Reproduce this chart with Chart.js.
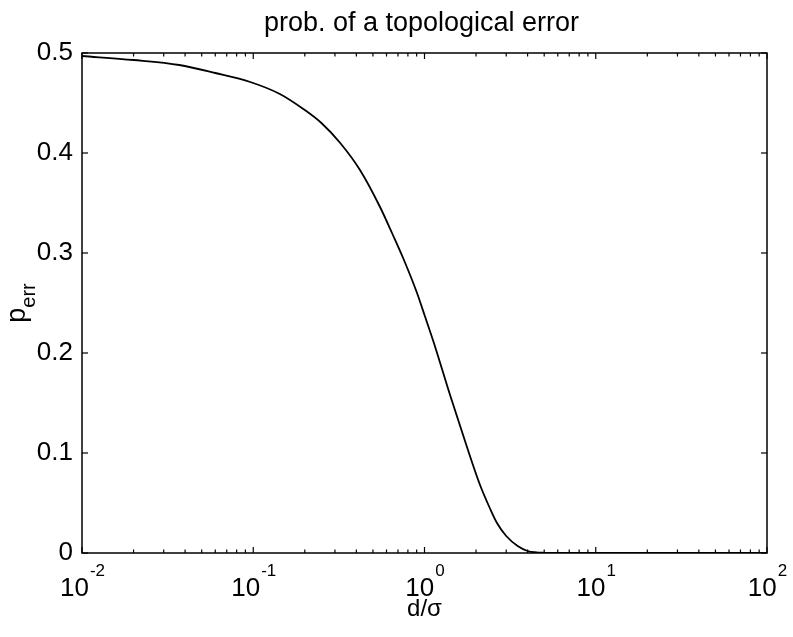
<!DOCTYPE html>
<html>
<head>
<meta charset="utf-8">
<script src="https://cdn.jsdelivr.net/npm/chart.js@4"></script>
<style>
  body { margin: 0; background: #fff; }
  #wrap { width: 793px; height: 637px; }
</style>
</head>
<body>
<div id="wrap"><canvas id="myChart" width="793" height="637"></canvas></div>
<script>
// données
const dSigma = [0.01, 0.02, 0.037, 0.06, 0.096, 0.143, 0.196, 0.25, 0.322, 0.42, 0.55, 0.65, 0.75, 0.9, 1.0, 1.13, 1.41, 1.77, 2.11, 2.42, 2.65, 3.0, 3.5, 4.0, 4.5, 5.0, 6.0, 100];
const pErr = [0.497, 0.493, 0.488, 0.480, 0.471, 0.459, 0.444, 0.430, 0.410, 0.383, 0.346, 0.319, 0.295, 0.261, 0.238, 0.211, 0.158, 0.106, 0.068, 0.044, 0.030, 0.017, 0.007, 0.002, 0.0006, 0.0002, 0, 0];

const xTickValues = [0.01, 0.1, 1, 10, 100];
const xTickExps = ['-2', '-1', '0', '1', '2'];
const yTickValues = [0, 0.1, 0.2, 0.3, 0.4, 0.5];
const yTickLabels = ['0', '0.1', '0.2', '0.3', '0.4', '0.5'];

const FONT = "'Liberation Sans', Arial, Helvetica, sans-serif";
const ctx = document.getElementById('myChart');

function seg(c, x1, y1, x2, y2) {
  c.beginPath();
  c.moveTo(x1, y1);
  c.lineTo(x2, y2);
  c.stroke();
}

// cadre, graduations intérieures et textes avec exposant / indice
const frame = {
  id: 'frame',
  afterDraw(chart) {
    const c = chart.ctx;
    const a = chart.chartArea;
    const x = chart.scales.x;
    const y = chart.scales.y;
    c.save();
    c.strokeStyle = '#000';
    c.lineWidth = 1.5;
    c.strokeRect(a.left, a.top, a.right - a.left, a.bottom - a.top);

    c.lineWidth = 1.2;
    yTickValues.forEach(v => {
      const py = y.getPixelForValue(v);
      seg(c, a.left, py, a.left + 6, py);
      seg(c, a.right - 6, py, a.right, py);
    });
    for (let e = -2; e <= 2; e++) {
      for (let k = 1; k < 10; k++) {
        const v = k * Math.pow(10, e);
        if (v > 100) break;
        const px = x.getPixelForValue(v);
        const len = k === 1 ? 6 : 3.5;
        seg(c, px, a.bottom, px, a.bottom - len);
        seg(c, px, a.top, px, a.top + len);
      }
    }

    c.fillStyle = '#000';
    c.textBaseline = 'alphabetic';

    // titre
    c.textAlign = 'center';
    c.font = '27px ' + FONT;
    c.fillText('prob. of a topological error', (a.left + a.right) / 2 - 3, 31);

    // étiquettes 10^n
    c.textAlign = 'left';
    xTickValues.forEach((v, i) => {
      const px = x.getPixelForValue(v);
      c.font = '26px ' + FONT;
      const w1 = c.measureText('10').width;
      c.font = '17px ' + FONT;
      const w2 = c.measureText(xTickExps[i]).width;
      const start = px - (w1 + w2) / 2;
      c.font = '26px ' + FONT;
      c.fillText('10', start, 596);
      c.font = '17px ' + FONT;
      c.fillText(xTickExps[i], start + w1 + 1, 576);
    });

    // titre axe x
    c.font = '24px ' + FONT;
    c.textAlign = 'center';
    c.fillText('d/σ', (a.left + a.right) / 2, 616);

    // titre axe y : p indice err
    c.translate(25, (a.top + a.bottom) / 2);
    c.rotate(-Math.PI / 2);
    c.font = '27px ' + FONT;
    const wp = c.measureText('p').width;
    c.font = '20px ' + FONT;
    const we = c.measureText('err').width;
    c.textAlign = 'left';
    c.font = '27px ' + FONT;
    c.fillText('p', -(wp + we) / 2, 0);
    c.font = '20px ' + FONT;
    c.fillText('err', -(wp + we) / 2 + wp, 10);
    c.restore();
  }
};

new Chart(ctx, {
  type: 'line',
  data: {
    datasets: [{
      data: dSigma.map((d, i) => ({ x: d, y: pErr[i] })),
      borderColor: '#000',
      borderWidth: 1.8,
      pointRadius: 0,
      cubicInterpolationMode: 'monotone',
      fill: false
    }]
  },
  options: {
    responsive: false,
    animation: false,
    devicePixelRatio: 1,
    layout: { padding: { left: 0, right: 26, top: 53, bottom: 0 } },
    scales: {
      x: {
        type: 'logarithmic',
        min: 0.01,
        max: 100,
        grid: { display: false },
        border: { display: false },
        ticks: { display: false },
        afterFit: s => { s.height = 84; }
      },
      y: {
        min: 0,
        max: 0.5,
        grid: { display: false, drawTicks: false },
        border: { display: false },
        afterBuildTicks: s => { s.ticks = yTickValues.map(v => ({ value: v })); },
        ticks: {
          color: '#000',
          font: { size: 26, family: FONT },
          padding: 9,
          callback: (v, i) => yTickLabels[i]
        },
        afterFit: s => { s.width = 82; }
      }
    },
    plugins: {
      legend: { display: false },
      tooltip: { enabled: false },
      title: { display: false }
    }
  },
  plugins: [frame]
});
</script>
</body>
</html>
